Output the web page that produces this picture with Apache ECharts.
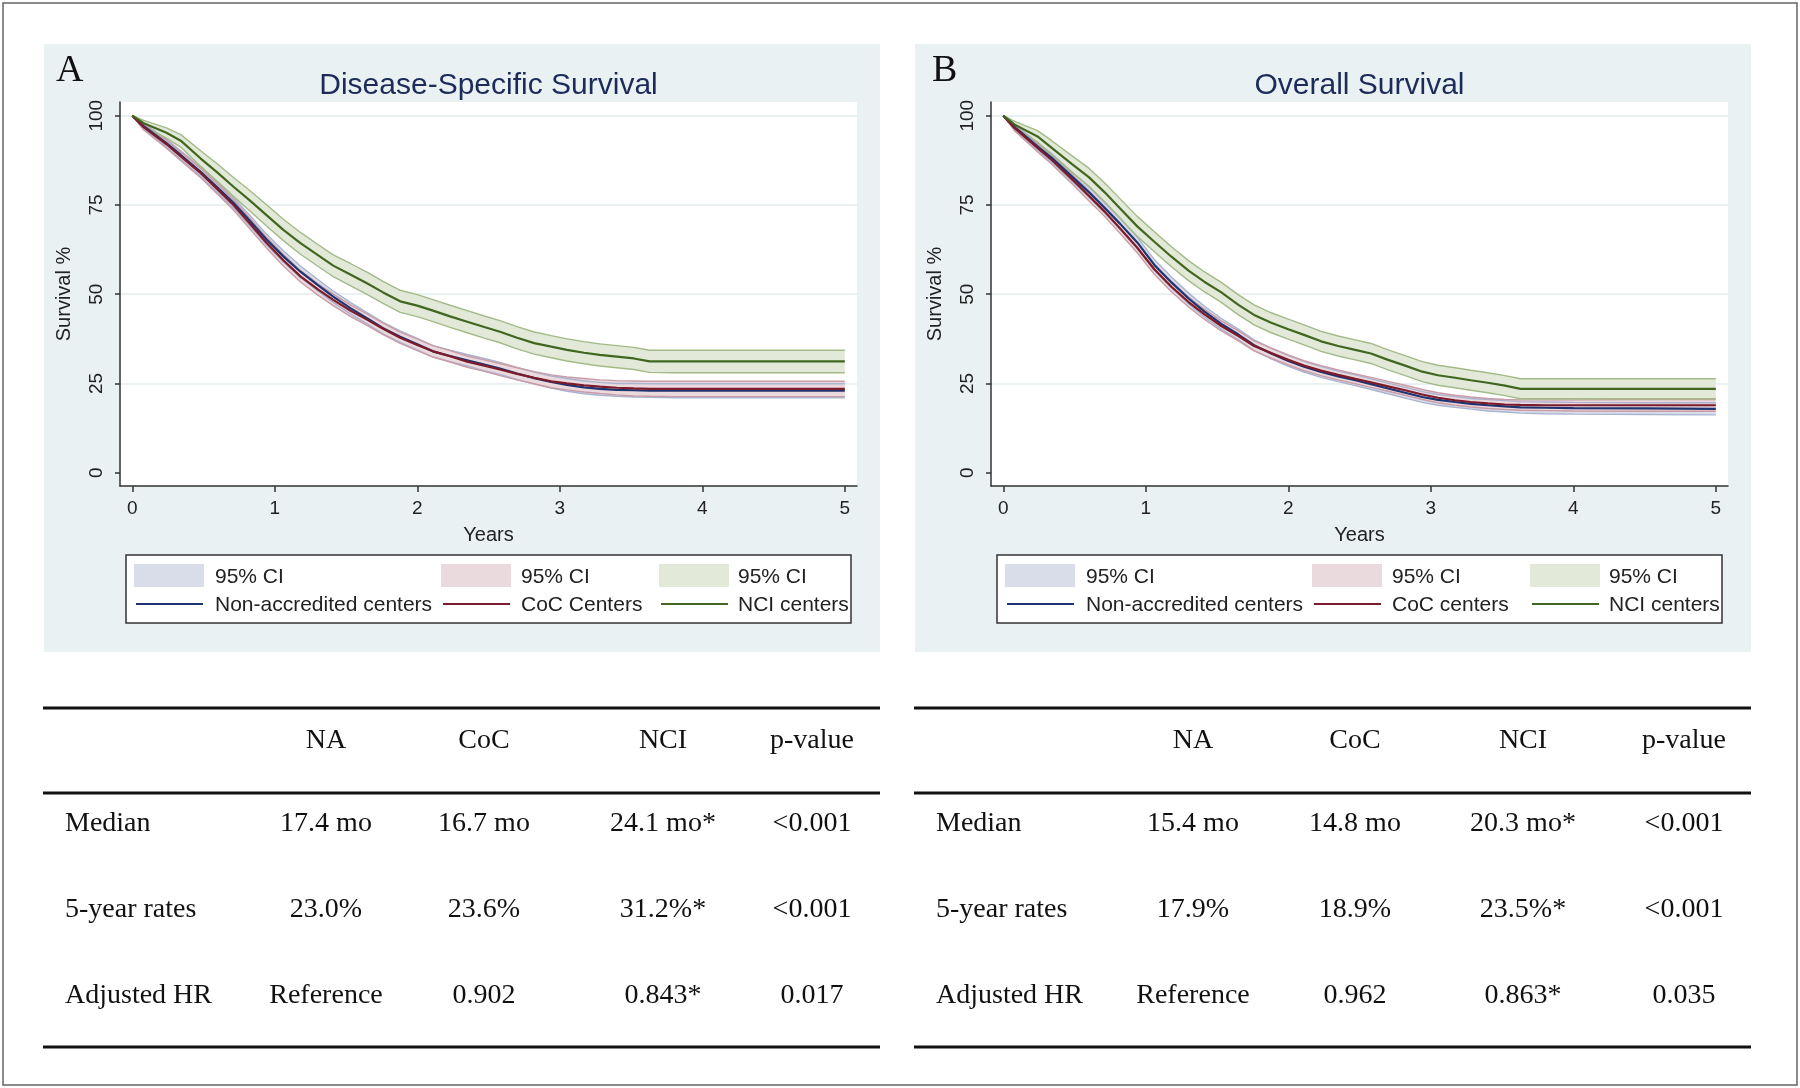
<!DOCTYPE html>
<html><head><meta charset="utf-8">
<script src="https://cdn.jsdelivr.net/npm/echarts@6/dist/echarts.min.js"></script>
<style>html,body{margin:0;padding:0;background:#fff}#c{width:1800px;height:1088px}</style>
</head><body><div id="c"></div>
<script>
// ---------- DATA ----------
const years = [0, 0.08, 0.24, 0.34, 0.48, 0.6, 0.71, 0.82, 0.94, 1.06, 1.18, 1.3, 1.41, 1.53, 1.65, 1.76, 1.88, 2.0, 2.11, 2.23, 2.35, 2.47, 2.58, 2.7, 2.82, 2.94, 3.05, 3.17, 3.28, 3.4, 3.52, 3.63, 3.8, 4.0, 4.5, 5.0];

// Panel A: Disease-Specific Survival
const dssNA    = [100, 97.1, 92.3, 89.0, 84.3, 79.8, 75.6, 70.8, 65.4, 60.6, 56.3, 52.6, 49.3, 46.1, 43.2, 40.5, 38.1, 36.0, 34.0, 32.7, 31.5, 30.3, 29.2, 27.8, 26.5, 25.4, 24.6, 23.9, 23.5, 23.2, 23.1, 23.0, 23.0, 23.0, 23.0, 23.0];
const dssNALo  = [100, 96.3, 91.2, 87.8, 83.0, 78.4, 74.2, 69.3, 63.9, 59.0, 54.7, 51.0, 47.7, 44.5, 41.6, 38.9, 36.5, 34.4, 32.4, 31.1, 29.9, 28.6, 27.5, 26.1, 24.8, 23.7, 22.8, 22.1, 21.7, 21.4, 21.2, 21.1, 21.0, 21.0, 21.0, 21.0];
const dssNAHi  = [100, 97.9, 93.4, 90.2, 85.6, 81.2, 77.0, 72.3, 66.9, 62.2, 57.9, 54.2, 50.9, 47.7, 44.8, 42.1, 39.7, 37.6, 35.6, 34.3, 33.1, 32.0, 30.9, 29.5, 28.2, 27.1, 26.4, 25.7, 25.3, 25.0, 25.0, 24.9, 24.9, 24.9, 24.9, 24.9];
const dssCoC   = [100, 96.8, 92.0, 88.6, 83.9, 79.3, 75.0, 70.0, 64.5, 59.5, 55.0, 51.4, 48.4, 45.4, 42.8, 40.3, 37.8, 35.8, 34.0, 32.6, 31.1, 30.0, 28.9, 27.7, 26.6, 25.6, 25.0, 24.5, 24.1, 23.8, 23.6, 23.5, 23.5, 23.5, 23.5, 23.5];
const dssCoCLo = [100, 96.0, 90.9, 87.4, 82.6, 77.9, 73.6, 68.5, 63.0, 57.9, 53.4, 49.8, 46.8, 43.8, 41.2, 38.7, 36.2, 34.2, 32.4, 31.0, 29.5, 28.4, 27.2, 26.0, 24.9, 23.8, 23.2, 22.6, 22.2, 21.8, 21.5, 21.4, 21.3, 21.3, 21.3, 21.3];
const dssCoCHi = [100, 97.6, 93.1, 89.8, 85.2, 80.7, 76.4, 71.5, 66.0, 61.1, 56.6, 53.0, 50.0, 47.0, 44.4, 41.9, 39.4, 37.4, 35.6, 34.2, 32.7, 31.6, 30.6, 29.4, 28.3, 27.4, 26.8, 26.4, 26.0, 25.8, 25.7, 25.6, 25.6, 25.6, 25.6, 25.6];
const dssNCI   = [100, 97.9, 95.2, 93.0, 88.0, 84.0, 80.1, 76.4, 72.2, 68.0, 64.3, 61.0, 58.0, 55.5, 53.0, 50.5, 48.0, 46.8, 45.4, 43.8, 42.3, 40.8, 39.5, 37.8, 36.3, 35.3, 34.4, 33.6, 33.0, 32.5, 32.0, 31.2, 31.2, 31.2, 31.2, 31.2];
const dssNCILo = [100, 97.0, 93.7, 91.2, 85.8, 81.5, 77.4, 73.5, 69.2, 65.0, 61.2, 57.9, 54.9, 52.4, 49.9, 47.4, 44.9, 43.7, 42.3, 40.7, 39.2, 37.7, 36.4, 34.7, 33.2, 32.2, 31.3, 30.5, 29.9, 29.4, 28.9, 28.1, 28.0, 28.0, 28.0, 28.0];
const dssNCIHi = [100, 98.7, 96.6, 94.7, 90.2, 86.4, 82.7, 79.2, 75.1, 71.0, 67.3, 64.0, 61.0, 58.6, 56.1, 53.6, 51.1, 49.9, 48.5, 46.9, 45.4, 43.9, 42.6, 40.9, 39.4, 38.4, 37.5, 36.7, 36.1, 35.6, 35.1, 34.3, 34.3, 34.3, 34.3, 34.3];

// Panel B: Overall Survival
const osNA     = [100, 96.8, 91.4, 88.2, 83.0, 78.6, 74.2, 69.7, 64.5, 58.2, 53.3, 48.8, 45.2, 41.7, 38.7, 35.7, 33.4, 31.3, 29.7, 28.2, 27.0, 25.9, 24.8, 23.6, 22.4, 21.2, 20.4, 19.8, 19.3, 18.9, 18.6, 18.3, 18.2, 18.1, 18.0, 17.9];
const osNALo   = [100, 96.0, 90.3, 87.0, 81.7, 77.2, 72.8, 68.2, 63.0, 56.7, 51.8, 47.3, 43.7, 40.2, 37.2, 34.2, 31.9, 29.8, 28.2, 26.7, 25.5, 24.4, 23.3, 22.1, 20.9, 19.7, 18.9, 18.3, 17.8, 17.3, 17.0, 16.7, 16.5, 16.4, 16.3, 16.2];
const osNAHi   = [100, 97.6, 92.5, 89.4, 84.3, 80.0, 75.6, 71.2, 66.0, 59.7, 54.8, 50.3, 46.7, 43.2, 40.2, 37.2, 34.9, 32.8, 31.2, 29.7, 28.5, 27.4, 26.3, 25.1, 23.9, 22.7, 21.9, 21.3, 20.8, 20.5, 20.2, 19.9, 19.8, 19.7, 19.6, 19.6];
const osCoC    = [100, 96.5, 91.0, 87.6, 82.3, 77.6, 73.2, 68.4, 63.0, 57.0, 52.1, 47.8, 44.4, 41.1, 38.3, 35.5, 33.5, 31.6, 30.0, 28.6, 27.4, 26.3, 25.3, 24.2, 23.1, 21.9, 21.0, 20.3, 19.8, 19.4, 19.1, 19.0, 18.9, 18.9, 18.9, 18.9];
const osCoCLo  = [100, 95.7, 89.9, 86.4, 81.0, 76.2, 71.8, 67.0, 61.6, 55.6, 50.7, 46.4, 43.0, 39.7, 36.9, 34.1, 32.1, 30.2, 28.6, 27.2, 26.0, 24.9, 23.9, 22.8, 21.7, 20.5, 19.6, 18.9, 18.4, 18.0, 17.7, 17.5, 17.4, 17.3, 17.2, 17.2];
const osCoCHi  = [100, 97.3, 92.1, 88.8, 83.6, 79.0, 74.6, 69.8, 64.4, 58.4, 53.5, 49.2, 45.8, 42.5, 39.7, 36.9, 34.9, 33.0, 31.4, 30.0, 28.8, 27.7, 26.7, 25.6, 24.5, 23.3, 22.4, 21.7, 21.2, 20.8, 20.5, 20.4, 20.4, 20.4, 20.5, 20.5];
const osNCI    = [100, 97.5, 94.2, 91.0, 86.5, 82.8, 78.6, 74.0, 69.0, 64.7, 60.5, 56.6, 53.5, 50.5, 47.0, 44.2, 42.0, 40.2, 38.6, 36.8, 35.5, 34.4, 33.4, 31.6, 30.0, 28.3, 27.3, 26.6, 25.9, 25.2, 24.4, 23.5, 23.5, 23.5, 23.5, 23.5];
const osNCILo  = [100, 96.6, 92.6, 89.0, 84.2, 80.3, 76.0, 71.3, 66.2, 61.9, 57.7, 53.8, 50.7, 47.7, 44.2, 41.4, 39.2, 37.4, 35.8, 34.0, 32.7, 31.6, 30.6, 28.8, 27.2, 25.5, 24.5, 23.8, 23.1, 22.4, 21.6, 20.7, 20.7, 20.7, 20.7, 20.7];
const osNCIHi  = [100, 98.4, 95.8, 93.0, 88.8, 85.3, 81.2, 76.7, 71.8, 67.5, 63.3, 59.4, 56.3, 53.3, 49.8, 47.0, 44.8, 43.0, 41.4, 39.6, 38.3, 37.2, 36.2, 34.4, 32.8, 31.1, 30.1, 29.4, 28.7, 28.0, 27.2, 26.3, 26.3, 26.3, 26.3, 26.3];

const xTicks = [0, 1, 2, 3, 4, 5];
const yTicks = [0, 25, 50, 75, 100];
const panelTitles = ['Disease-Specific Survival', 'Overall Survival'];
const panelLetters = ['A', 'B'];
const ciLabel = '95% CI';
const legendLabelsA = ['Non-accredited centers', 'CoC Centers', 'NCI centers'];
const legendLabelsB = ['Non-accredited centers', 'CoC centers', 'NCI centers'];

const tableHeader = ['', 'NA', 'CoC', 'NCI', 'p-value'];
const tableRowsA = [
  ['Median', '17.4 mo', '16.7 mo', '24.1 mo*', '<0.001'],
  ['5-year rates', '23.0%', '23.6%', '31.2%*', '<0.001'],
  ['Adjusted HR', 'Reference', '0.902', '0.843*', '0.017']
];
const tableRowsB = [
  ['Median', '15.4 mo', '14.8 mo', '20.3 mo*', '<0.001'],
  ['5-year rates', '17.9%', '18.9%', '23.5%*', '<0.001'],
  ['Adjusted HR', 'Reference', '0.962', '0.863*', '0.035']
];

// ---------- STYLE ----------
const SANS = "'Liberation Sans', Arial, Helvetica, sans-serif";
const SERIF = "'Liberation Serif', 'Times New Roman', serif";
const C = {
  na:  {line: '#1f3470', fill: '#d8dde9', edge: '#a9b4d0'},
  coc: {line: '#7c1b2c', fill: '#ead9dd', edge: '#c99ca6'},
  nci: {line: '#41661f', fill: '#e3e9d9', edge: '#a2ba87'}
};
const BG = '#eaf1f3';

const panels = [
  {dx: 0, gridLeft: 120, groups: [[dssNA, dssNALo, dssNAHi, C.na], [dssCoC, dssCoCLo, dssCoCHi, C.coc], [dssNCI, dssNCILo, dssNCIHi, C.nci]], legend: legendLabelsA, rows: tableRowsA,
   cols: [326, 484, 663, 812], letterX: 56},
  {dx: 871, gridLeft: 991, groups: [[osNA, osNALo, osNAHi, C.na], [osCoC, osCoCLo, osCoCHi, C.coc], [osNCI, osNCILo, osNCIHi, C.nci]], legend: legendLabelsB, rows: tableRowsB,
   cols: [1193, 1355, 1523, 1684], letterX: 932}
];

// plot geometry (px) : x=0 at left+12.3, 142.5 px/year ; y=100 at 115.7, 3.57 px/%
const GRID_TOP = 102, GRID_H = 384, GRID_W = 737;
const X_MIN = -12.3 / 142.5, X_MAX = (GRID_W - 12.3) / 142.5;
const Y_MAX = 100 + (115.7 - GRID_TOP) / 3.57, Y_MIN = Y_MAX - GRID_H / 3.57;

const grids = [], xAxes = [], yAxes = [], series = [], graphics = [];

graphics.push({type: 'rect', z: -100, shape: {x: 3, y: 3, width: 1794, height: 1082}, style: {fill: '#fff', stroke: '#666', lineWidth: 1.5}});

function bandRenderer(lo, hi, fill) {
  return function (params, api) {
    if (params.dataIndex !== 0) return null;
    const pts = [];
    for (let i = 0; i < years.length; i++) pts.push(api.coord([years[i], lo[i]]));
    for (let i = years.length - 1; i >= 0; i--) pts.push(api.coord([years[i], hi[i]]));
    return {type: 'polygon', shape: {points: pts}, style: {fill: fill}};
  };
}

panels.forEach((p, pi) => {
  const dx = p.dx;
  graphics.push({type: 'rect', z: -90, shape: {x: 44 + dx, y: 44, width: 836, height: 608}, style: {fill: BG}});
  graphics.push({type: 'rect', z: -80, shape: {x: p.gridLeft, y: GRID_TOP, width: GRID_W, height: GRID_H}, style: {fill: '#fff'}});
  graphics.push({type: 'text', z: 10, style: {x: p.letterX, y: 71, text: panelLetters[pi], font: '38px ' + SERIF, fill: '#111', textVerticalAlign: 'middle'}});
  graphics.push({type: 'text', z: 10, style: {x: p.gridLeft + GRID_W / 2, y: 85.5, text: panelTitles[pi], font: '30px ' + SANS, fill: '#1c2b59', textAlign: 'center', textVerticalAlign: 'middle'}});

  grids.push({left: p.gridLeft, top: GRID_TOP, width: GRID_W, height: GRID_H, containLabel: false});
  xAxes.push({type: 'value', gridIndex: pi, min: X_MIN, max: X_MAX,
    name: 'Years', nameLocation: 'middle', nameGap: 39,
    nameTextStyle: {fontFamily: SANS, fontSize: 20, color: '#222'},
    axisLine: {show: true, onZero: false, lineStyle: {color: '#333', width: 1.5}},
    axisTick: {show: true, length: 6, customValues: xTicks, lineStyle: {color: '#333', width: 1.5}},
    axisLabel: {customValues: xTicks, fontFamily: SANS, fontSize: 19, color: '#222', margin: 13},
    splitLine: {show: false}});
  yAxes.push({type: 'value', gridIndex: pi, min: Y_MIN, max: Y_MAX,
    name: 'Survival %', nameLocation: 'middle', nameGap: 46, nameRotate: 90,
    nameTextStyle: {fontFamily: SANS, fontSize: 20, color: '#222'},
    axisLine: {show: true, onZero: false, lineStyle: {color: '#333', width: 1.5}},
    axisTick: {show: true, length: 5, customValues: yTicks, lineStyle: {color: '#333', width: 1.5}},
    axisLabel: {customValues: yTicks, rotate: 90, fontFamily: SANS, fontSize: 19, color: '#222', margin: 14},
    splitLine: {show: true, lineStyle: {color: ['rgba(0,0,0,0)', '#e3ecee', '#e3ecee', '#e3ecee', '#e3ecee'], width: 1.5}}});

  // confidence bands: filled polygon + edges
  p.groups.forEach((g, gi) => {
    const [mid, lo, hi, col] = g;
    series.push({type: 'custom', name: 'band' + pi + '_' + gi, xAxisIndex: pi, yAxisIndex: pi, clip: true,
      data: years.map((t, i) => [t, lo[i], hi[i]]), encode: {x: 0, y: [1, 2]},
      renderItem: bandRenderer(lo, hi, col.fill), silent: true, animation: false});
    [lo, hi].forEach((edge, ei) => {
      series.push({type: 'line', name: 'edge' + pi + '_' + gi + '_' + ei, xAxisIndex: pi, yAxisIndex: pi,
        data: years.map((t, i) => [t, edge[i]]), symbol: 'none', silent: true, animation: false,
        lineStyle: {color: col.edge, width: 1.4}});
    });
  });
  // survival lines
  p.groups.forEach((g, gi) => {
    const [mid, lo, hi, col] = g;
    series.push({type: 'line', name: 'km' + pi + '_' + gi, xAxisIndex: pi, yAxisIndex: pi,
      data: years.map((t, i) => [t, mid[i]]), symbol: 'none', silent: true, animation: false,
      lineStyle: {color: col.line, width: 2.2}});
  });

  // legend box
  graphics.push({type: 'rect', z: 10, shape: {x: 126 + dx, y: 555, width: 725, height: 68}, style: {fill: '#fff', stroke: '#333', lineWidth: 1.5}});
  const swX = [134, 441, 659], txX = [215, 521, 738];
  p.groups.forEach((g, gi) => {
    const col = g[3];
    graphics.push({type: 'rect', z: 11, shape: {x: swX[gi] + dx, y: 564, width: 70, height: 23}, style: {fill: col.fill}});
    graphics.push({type: 'text', z: 11, style: {x: txX[gi] + dx, y: 577, text: ciLabel, font: '21px ' + SANS, fill: '#222', textVerticalAlign: 'middle'}});
    graphics.push({type: 'line', z: 11, shape: {x1: swX[gi] + 2 + dx, y1: 604, x2: swX[gi] + 69 + dx, y2: 604}, style: {stroke: col.line, lineWidth: 2}});
    graphics.push({type: 'text', z: 11, style: {x: txX[gi] + dx, y: 605, text: p.legend[gi], font: '21px ' + SANS, fill: '#222', textVerticalAlign: 'middle'}});
  });

  // table
  const tx1 = 43 + dx, tx2 = 880 + dx;
  [708, 793, 1047].forEach(y => graphics.push({type: 'line', z: 10, shape: {x1: tx1, y1: y, x2: tx2, y2: y}, style: {stroke: '#111', lineWidth: 3}}));
  const rowY = [824, 910, 996];
  tableHeader.forEach((h, ci) => {
    if (ci === 0) return;
    graphics.push({type: 'text', z: 10, style: {x: p.cols[ci - 1], y: 741, text: h, font: '28px ' + SERIF, fill: '#111', textAlign: 'center', textVerticalAlign: 'middle'}});
  });
  p.rows.forEach((r, ri) => {
    r.forEach((cell, ci) => {
      if (ci === 0) {
        graphics.push({type: 'text', z: 10, style: {x: 65 + dx, y: rowY[ri], text: cell, font: '28px ' + SERIF, fill: '#111', textVerticalAlign: 'middle'}});
      } else {
        graphics.push({type: 'text', z: 10, style: {x: p.cols[ci - 1], y: rowY[ri], text: cell, font: '28px ' + SERIF, fill: '#111', textAlign: 'center', textVerticalAlign: 'middle'}});
      }
    });
  });
});

const chart = echarts.init(document.getElementById('c'), null, {renderer: 'canvas'});
chart.setOption({
  backgroundColor: '#fff',
  animation: false,
  grid: grids, xAxis: xAxes, yAxis: yAxes, series: series,
  graphic: {elements: graphics}
});
</script>
</body></html>
